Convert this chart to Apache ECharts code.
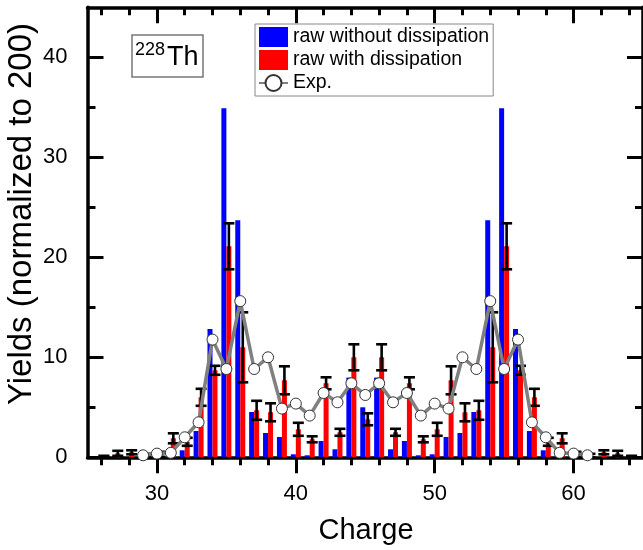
<!DOCTYPE html>
<html><head><meta charset="utf-8">
<script src="https://cdn.jsdelivr.net/npm/echarts@6/dist/echarts.min.js"></script>
<style>html,body{margin:0;padding:0;background:#fff}#c{width:643px;height:550px}</style>
</head><body><div id="c"></div>
<script>
// ---- data ----
const charges = [26,27,28,29,30,31,32,33,34,35,36,37,38,39,40,41,42,43,44,45,46,47,48,49,50,51,52,53,54,55,56,57,58,59,60,61,62,63,64];
const rawNoDiss = [0,0,0,0,0,0.05,0.7,2.63,12.83,34.9,23.7,4.53,2.43,2.03,0.3,0.2,1.63,0.8,7.97,5.0,
                   7.97,0.8,1.63,0.2,0.3,2.03,2.43,4.53,23.7,34.9,12.83,2.63,0.7,0.05,0,0,0,0,0];
const rawDiss = [0.1,0.4,0.5,0.15,0.3,1.9,1.55,6.0,8.7,21.1,11.0,4.7,4.5,7.7,2.8,1.8,7.4,2.5,10.0,3.8,
                 10.0,2.5,7.4,1.8,2.8,7.7,4.5,4.7,11.0,21.1,8.7,6.0,1.55,1.9,0.3,0.15,0.5,0.4,0.1];
const rawDissErr = [0.05,0.25,0.2,0.2,0.25,0.5,0.4,0.85,0.45,2.3,3.5,0.95,0.9,1.4,0.65,0.3,0.6,0.35,1.3,0.6,
                    1.3,0.35,0.6,0.3,0.65,1.4,0.9,0.95,3.5,2.3,0.45,0.85,0.4,0.5,0.25,0.2,0.2,0.25,0.05];
const expCharges = [29,30,31,32,33,34,35,36,37,38,39,40,41,42,43,44,45,46,47,48,49,50,51,52,53,54,55,56,57,58,59,60,61];
const expYields = [0.2,0.37,0.45,2.0,3.5,11.77,8.83,15.62,8.83,10.0,4.87,5.37,4.17,6.43,5.5,7.4,6.23,
                   7.4,5.5,6.43,4.17,5.37,4.87,10.0,8.83,15.62,8.83,11.77,3.5,2.0,0.45,0.37,0.2];
const xMajorTicks = [30,40,50,60];
const xMinorTicks = [26,28,32,34,36,38,42,44,46,48,52,54,56,58,62,64];
const yMajorTicks = [0,10,20,30,40];
const yMinorTicks = [5,15,25,35];
const seriesNames = ['raw without dissipation','raw with dissipation','Exp.'];

const FONT = '"Liberation Sans", Arial, sans-serif';
const chart = echarts.init(document.getElementById('c'), null, {renderer:'canvas'});

function xAx(pos, ticks, len, inside, showLine, labels) {
  return {
    type:'value', position:pos, min:25, max:65, gridIndex:0,
    axisLine:{show:showLine, onZero:false, lineStyle:{color:'#000', width:3.5}},
    axisTick:{show:true, inside:inside, length:len, customValues:ticks, lineStyle:{color:'#000', width:3}},
    axisLabel:labels ? {show:true, customValues:labels, fontSize:22, color:'#000', fontFamily:FONT, margin:26} : {show:false},
    splitLine:{show:false}
  };
}
function yAx(pos, ticks, len, showLine, labels) {
  return {
    type:'value', position:pos, min:0, max:45, gridIndex:0,
    axisLine:{show:showLine, onZero:false, lineStyle:{color:'#000', width:3.5}},
    axisTick:{show:true, inside:true, length:len, customValues:ticks, lineStyle:{color:'#000', width:3}},
    axisLabel:labels ? {show:true, customValues:labels, fontSize:22, color:'#000', fontFamily:FONT, margin:20} : {show:false},
    splitLine:{show:false}
  };
}

const option = {
  animation:false,
  backgroundColor:'#fff',
  grid:{left:87.5, top:7.3, width:558.5, height:450, containLabel:false},
  xAxis:[
    xAx('bottom', xMajorTicks, 16, false, true, xMajorTicks),
    xAx('bottom', xMinorTicks, 8, false, false, null),
    xAx('top', xMajorTicks, 16, true, true, null),
    xAx('top', xMinorTicks, 8, true, false, null)
  ],
  yAxis:[
    yAx('left', yMajorTicks, 16, true, yMajorTicks),
    yAx('left', yMinorTicks, 8, false, null),
    yAx('right', yMajorTicks, 16, true, null),
    yAx('right', yMinorTicks, 8, false, null)
  ],
  legend:{
    orient:'vertical', left:255, top:24,
    data:[{name:seriesNames[0], icon:'rect'}, {name:seriesNames[1], icon:'rect'}, {name:seriesNames[2]}],
    backgroundColor:'#fff', borderColor:'#888', borderWidth:1,
    padding:[3,4,3,3], itemWidth:29, itemHeight:20, itemGap:3,
    textStyle:{fontSize:19.5, color:'#000', fontFamily:FONT}
  },
  series:[
    {
      name:seriesNames[0], type:'bar', xAxisIndex:0, yAxisIndex:0,
      barWidth:5, barGap:'0%',
      itemStyle:{color:'#0000ff'},
      data:charges.map((c,i)=>[c, rawNoDiss[i]]), z:2
    },
    {
      name:seriesNames[1], type:'bar', xAxisIndex:0, yAxisIndex:0,
      barWidth:5, barGap:'0%',
      itemStyle:{color:'#ff0000'},
      data:charges.map((c,i)=>[c, rawDiss[i]]), z:2
    },
    {
      name:'err', type:'custom', xAxisIndex:0, yAxisIndex:0, z:3,
      data:charges.map((c,i)=>[c, rawDiss[i], rawDissErr[i]]),
      renderItem:function(params, api){
        const c = api.value(0), v = api.value(1), e = api.value(2);
        const top = api.coord([c, v+e]);
        const bot = api.coord([c, Math.max(v-e, 0)]);
        const x = top[0] + 2.5, hw = 5.5;
        const st = {stroke:'#000', lineWidth:2.6};
        return {type:'group', children:[
          {type:'line', shape:{x1:x, y1:top[1], x2:x, y2:bot[1]}, style:st},
          {type:'line', shape:{x1:x-hw, y1:top[1], x2:x+hw, y2:top[1]}, style:st},
          {type:'line', shape:{x1:x-hw, y1:bot[1], x2:x+hw, y2:bot[1]}, style:st}
        ]};
      }
    },
    {
      name:seriesNames[2], type:'line', xAxisIndex:0, yAxisIndex:0, z:4,
      data:expCharges.map((c,i)=>[c, expYields[i]]),
      lineStyle:{color:'#808080', width:3.5},
      symbol:'circle', symbolSize:11, showAllSymbol:true,
      itemStyle:{color:'#fff', borderColor:'#333', borderWidth:1}
    }
  ],
  graphic:[
    {type:'rect', shape:{x:132, y:35, width:71, height:42}, style:{fill:'#fff', stroke:'#777', lineWidth:1.5}, z:10},
    {type:'text', x:135, y:41, style:{text:'228', font:'18px '+FONT, fill:'#000'}, z:11},
    {type:'text', x:167, y:44, style:{text:'Th', font:'27px '+FONT, fill:'#000'}, z:11},
    {type:'text', x:22, y:214, rotation:Math.PI/2, style:{text:'Yields (normalized to 200)', font:'33px '+FONT, fill:'#000', textAlign:'center', textVerticalAlign:'middle'}},
    {type:'text', x:366, y:531, style:{text:'Charge', font:'29px '+FONT, fill:'#000', textAlign:'center', textVerticalAlign:'middle'}}
  ]
};
chart.setOption(option);
</script>
</body></html>
